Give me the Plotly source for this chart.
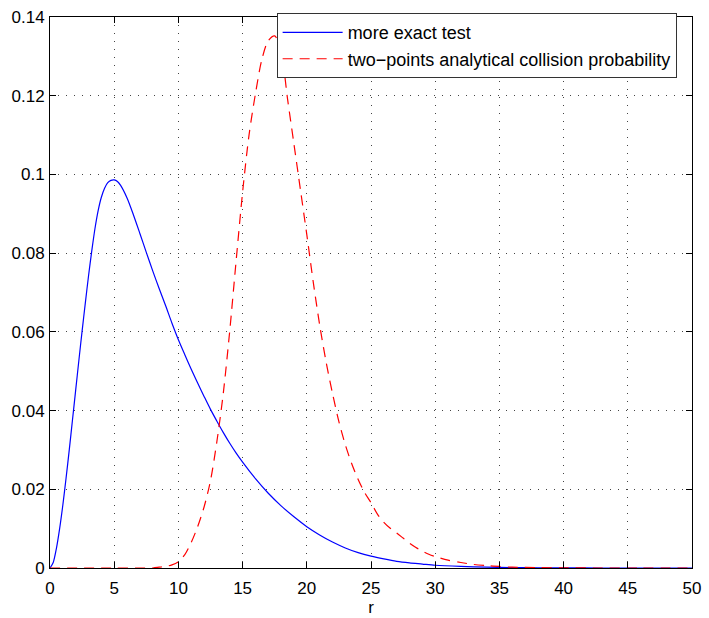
import plotly.graph_objects as go

# Probability density curves versus distance r
r_exact = [0, 0.25, 0.5, 0.75, 1.0, 1.25, 1.5, 1.75, 2.0, 2.25, 2.5, 2.75, 3.0,
           3.25, 3.5, 3.75, 4.0, 4.25, 4.5, 4.75, 5.0, 5.25, 5.5, 6.0, 6.5, 7.0,
           7.5, 8.0, 8.5, 9.0, 9.5, 10.0, 10.5, 11.0, 11.5, 12.0, 12.5, 13.0,
           13.5, 14.0, 14.5, 15.0, 16.0, 17.0, 18.0, 19.0, 20.0, 21.0, 22.0,
           23.0, 24.0, 25.0, 26.0, 27.0, 28.0, 29.0, 30.0, 32.0, 34.0, 36.0,
           38.0, 40.0, 43.0, 46.0, 50.0]
p_exact = [0.0, 0.0014, 0.0050, 0.0100, 0.0160, 0.0228, 0.0300, 0.0376, 0.0452,
           0.0528, 0.0602, 0.0673, 0.0742, 0.0805, 0.0862, 0.0908, 0.0942,
           0.0965, 0.0979, 0.0985, 0.0986, 0.0982, 0.0972, 0.0940, 0.0897,
           0.0850, 0.0802, 0.0755, 0.0710, 0.0667, 0.0622, 0.0580, 0.0542,
           0.0505, 0.0470, 0.0436, 0.0403, 0.0373, 0.0344, 0.0317, 0.0292,
           0.0269, 0.0227, 0.0190, 0.0158, 0.0130, 0.0105, 0.0084, 0.0066,
           0.0051, 0.0039, 0.0030, 0.0023, 0.0017, 0.0013, 0.0010, 0.0007,
           0.0004, 0.0002, 0.0001, 0.00005, 0.00002, 0.0, 0.0, 0.0]

r_twopt = [0, 5.0, 8.0, 8.5, 9.0, 9.5, 10.0, 10.5, 11.0, 11.5, 12.0, 12.5, 13.0,
           13.5, 14.0, 14.5, 15.0, 15.5, 16.0, 16.5, 17.0, 17.5, 18.0, 18.5,
           19.0, 19.5, 20.0, 20.5, 21.0, 21.5, 22.0, 22.5, 23.0, 23.5, 24.0,
           24.5, 25.0, 25.5, 26.0, 26.5, 27.0, 27.5, 28.0, 28.5, 29.0, 29.5,
           30.0, 31.0, 32.0, 33.0, 34.0, 35.0, 36.0, 38.0, 40.0, 43.0, 46.0, 50.0]
p_twopt = [0.0, 0.0, 0.0, 0.0002, 0.0004, 0.0008, 0.0016, 0.0034, 0.0065, 0.0105,
           0.0155, 0.0222, 0.0322, 0.0445, 0.0603, 0.0782, 0.0955, 0.1100,
           0.1205, 0.1292, 0.1340, 0.1352, 0.1312, 0.1192, 0.1077, 0.0962,
           0.0847, 0.0727, 0.0618, 0.0524, 0.0444, 0.0372, 0.0313, 0.0265,
           0.0225, 0.0192, 0.0166, 0.0137, 0.0116, 0.0101, 0.0089, 0.0076,
           0.0063, 0.0052, 0.0043, 0.0035, 0.0029, 0.0020, 0.0014, 0.0009,
           0.0006, 0.0004, 0.0002, 0.0001, 0.00003, 0.0, 0.0, 0.0]

x_ticks = [0, 5, 10, 15, 20, 25, 30, 35, 40, 45, 50]
y_ticks = [0, 0.02, 0.04, 0.06, 0.08, 0.1, 0.12, 0.14]
y_tick_text = ["0", "0.02", "0.04", "0.06", "0.08", "0.1", "0.12", "0.14"]

FONT = "Liberation Sans, Arial, Helvetica, sans-serif"

fig = go.Figure()
fig.add_trace(go.Scatter(
    x=r_exact, y=p_exact, mode="lines", name="more exact test",
    line=dict(color="#0000ff", width=1.2, shape="spline", smoothing=0.8),
))
fig.add_trace(go.Scatter(
    x=r_twopt, y=p_twopt, mode="lines",
    name="two\u2212points analytical collision probability",
    line=dict(color="#ff0000", width=1.2, dash="10px,7px",
              shape="spline", smoothing=0.8),
))

axis_common = dict(
    showline=True, linecolor="#000000", linewidth=1, mirror="allticks",
    ticks="inside", ticklen=6, tickcolor="#000000", tickwidth=1,
    showgrid=True, gridcolor="#444444", gridwidth=1, griddash="1px,7px",
    zeroline=False, ticklabeloverflow="allow",
    tickfont=dict(family=FONT, size=17, color="#000000"),
)

fig.update_xaxes(range=[0, 50], tickvals=x_ticks,
                 ticktext=[str(v) for v in x_ticks], ticklabelstandoff=5,
                 title=dict(text="r", font=dict(family=FONT, size=17, color="#000"),
                            standoff=0),
                 **axis_common)
fig.update_yaxes(range=[0, 0.14], tickvals=y_ticks, ticktext=y_tick_text,
                 ticklabelstandoff=1, **axis_common)

fig.update_layout(
    width=709, height=618,
    margin=dict(l=50, r=12, t=8, b=50),
    paper_bgcolor="#ffffff", plot_bgcolor="#ffffff",
    font=dict(family=FONT, size=17, color="#000000"),
    legend=dict(
        x=0.353, y=1.007, xanchor="left", yanchor="top",
        bgcolor="#ffffff", bordercolor="#333333", borderwidth=1,
        font=dict(family=FONT, size=18, color="#000000"),
        itemwidth=60,
    ),
    showlegend=True,
)

fig.write_html("out.html")
